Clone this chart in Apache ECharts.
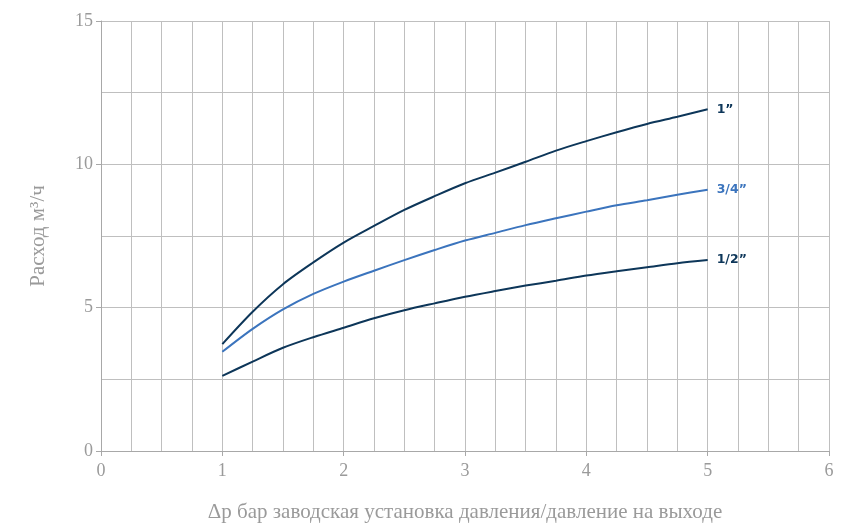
<!DOCTYPE html>
<html>
<head>
<meta charset="utf-8">
<script src="https://cdn.jsdelivr.net/npm/echarts@6/dist/echarts.min.js"></script>
<style>html,body{margin:0;padding:0;background:#fff}#c{width:849px;height:528px}</style>
</head>
<body>
<div id="c"></div>
<script>
var xValues = [1, 1.25, 1.5, 1.75, 2, 2.25, 2.5, 2.75, 3, 3.25, 3.5, 3.75, 4, 4.25, 4.5, 4.75, 5];
var seriesNames = ['1\u201d', '3/4\u201d', '1/2\u201d'];
var flow1 = [3.73, 4.86, 5.82, 6.58, 7.27, 7.85, 8.41, 8.89, 9.34, 9.71, 10.09, 10.48, 10.81, 11.12, 11.41, 11.66, 11.92];
var flow34 = [3.46, 4.26, 4.94, 5.48, 5.91, 6.29, 6.66, 7.01, 7.34, 7.61, 7.88, 8.12, 8.35, 8.57, 8.75, 8.94, 9.11];
var flow12 = [2.62, 3.12, 3.60, 3.97, 4.30, 4.63, 4.91, 5.15, 5.38, 5.58, 5.77, 5.94, 6.12, 6.27, 6.41, 6.55, 6.66];
var xAxisTitle = '\u0394p бар заводская установка давления/давление на выходе';
var yAxisTitle = 'Расход м\u00b3/ч';

var colors = ['#0d3659', '#3b74bd', '#0d3659'];
var datasets = [flow1, flow34, flow12];

function pairs(ys) { return xValues.map(function (x, i) { return [x, ys[i]]; }); }

var gridColor = '#bfbfbf';
var textColor = '#9a9a9a';
var serif = '"Liberation Serif", "DejaVu Serif", serif';

var chart = echarts.init(document.getElementById('c'));
chart.setOption({
  animation: false,
  grid: { left: 101, right: 20, top: 21, bottom: 77 },
  xAxis: {
    type: 'value', min: 0, max: 6, interval: 1,
    name: xAxisTitle, nameLocation: 'middle', nameGap: 51,
    nameTextStyle: { color: textColor, fontFamily: serif, fontSize: 21 },
    axisLine: { show: true, lineStyle: { color: '#a8a8a8', width: 1 } },
    axisTick: { show: true, length: 5, lineStyle: { color: '#a8a8a8' } },
    axisLabel: { color: textColor, fontFamily: serif, fontSize: 18, margin: 11 },
    splitLine: { show: true, lineStyle: { color: gridColor, width: 1 } },
    minorTick: { show: false, splitNumber: 4 },
    minorSplitLine: { show: true, lineStyle: { color: gridColor, width: 1 } }
  },
  yAxis: {
    type: 'value', min: 0, max: 15, interval: 5,
    name: yAxisTitle, nameLocation: 'middle', nameGap: 52, nameRotate: 90,
    nameTextStyle: { color: textColor, fontFamily: serif, fontSize: 21 },
    axisLine: { show: true, lineStyle: { color: '#a8a8a8', width: 1 } },
    axisTick: { show: true, length: 5, lineStyle: { color: '#a8a8a8' } },
    axisLabel: { color: textColor, fontFamily: serif, fontSize: 18, margin: 8 },
    splitLine: { show: true, lineStyle: { color: gridColor, width: 1 } },
    minorTick: { show: false, splitNumber: 2 },
    minorSplitLine: { show: true, lineStyle: { color: gridColor, width: 1 } }
  },
  series: datasets.map(function (d, i) {
    return {
      name: seriesNames[i], type: 'line', data: pairs(d), smooth: 0.3,
      showSymbol: false, symbol: 'none',
      lineStyle: { color: colors[i], width: 2 },
      itemStyle: { color: colors[i] },
      endLabel: {
        show: true, formatter: seriesNames[i], distance: 9,
        color: colors[i], fontFamily: '"DejaVu Sans", sans-serif', fontWeight: 'bold', fontSize: 12.5
      }
    };
  })
});
</script>
</body>
</html>
